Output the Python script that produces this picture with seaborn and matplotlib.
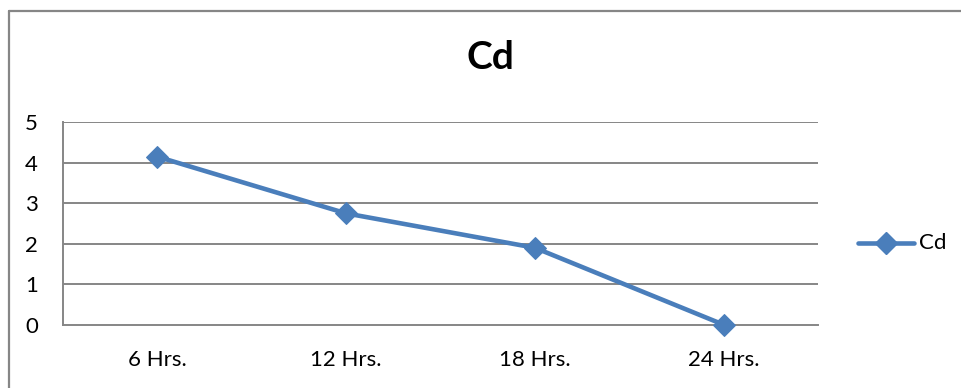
import matplotlib
matplotlib.use("Agg")
import matplotlib.pyplot as plt
import seaborn as sns
import pandas as pd
from matplotlib.lines import Line2D

categories = ["6 Hrs.", "12 Hrs.", "18 Hrs.", "24 Hrs."]
cd_values = [4.15, 2.75, 1.90, 0.0]
y_ticks = [0, 1, 2, 3, 4, 5]
series_name = "Cd"

sns.set_theme(style="white")
plt.rcParams["font.family"] = ["Lato", "DejaVu Sans"]
plt.rcParams["text.color"] = "black"

df = pd.DataFrame({"time": categories, "value": cd_values})

W, H = 961, 388
fig = plt.figure(figsize=(W / 100, H / 100), dpi=100)
ax = fig.add_axes([63 / W, (H - 324.7) / H, (818 - 63) / W, (324.7 - 122.3) / H])

grid_col = "#868686"
line_col = "#4A7EBB"

ax.set_ylim(0, 5)
ax.set_yticks(y_ticks)
for y in y_ticks[1:]:
    ax.axhline(y, color=grid_col, lw=1.4, zorder=1)

sns.lineplot(data=df, x="time", y="value", ax=ax, sort=False, color=line_col,
             lw=3.3, marker="D", markersize=11, markeredgecolor=line_col,
             zorder=3, legend=False, clip_on=False)
ax.set_xlim(-0.5, 3.5)
ax.set_xlabel("")
ax.set_ylabel("")

for side in ["top", "right"]:
    ax.spines[side].set_visible(False)
for side in ["left", "bottom"]:
    ax.spines[side].set_color(grid_col)
    ax.spines[side].set_linewidth(1.4)

ax.set_xticks(range(len(categories)))
ax.set_xticklabels(categories)
ax.set_xticks([i - 0.5 for i in range(len(categories) + 1)], minor=True)
ax.tick_params(axis="x", which="major", length=0, pad=18, labelsize=16, labelcolor="black")
ax.tick_params(axis="x", which="minor", length=6, width=1.4, color=grid_col, direction="out")
ax.tick_params(axis="y", which="major", length=6, width=1.4, color=grid_col, direction="out",
               pad=12, labelsize=16, labelcolor="black")

fig.text(490 / W, (H - 57.5) / H, "Cd", ha="center", va="center",
         fontsize=28, fontweight="bold", color="black")

# legend entry on the right
lx0, lx1, ly = 858 / W, 914 / W, (H - 243) / H
fig.add_artist(Line2D([lx0, lx1], [ly, ly], color=line_col, lw=3.3,
                      solid_capstyle="round", transform=fig.transFigure))
fig.add_artist(Line2D([(lx0 + lx1) / 2], [ly], color=line_col, marker="D",
                      markersize=11, transform=fig.transFigure))
fig.text(919 / W, ly, series_name, ha="left", va="center", fontsize=16, color="black")

# chart frame (top and left edges)
fx, fy = 8.5 / W, (H - 10.5) / H
fig.add_artist(Line2D([fx, 1.0], [fy, fy], color=grid_col, lw=1.6, transform=fig.transFigure))
fig.add_artist(Line2D([fx, fx], [0.0, fy], color=grid_col, lw=1.6, transform=fig.transFigure))

fig.savefig("out.png", dpi=100, facecolor="white")
